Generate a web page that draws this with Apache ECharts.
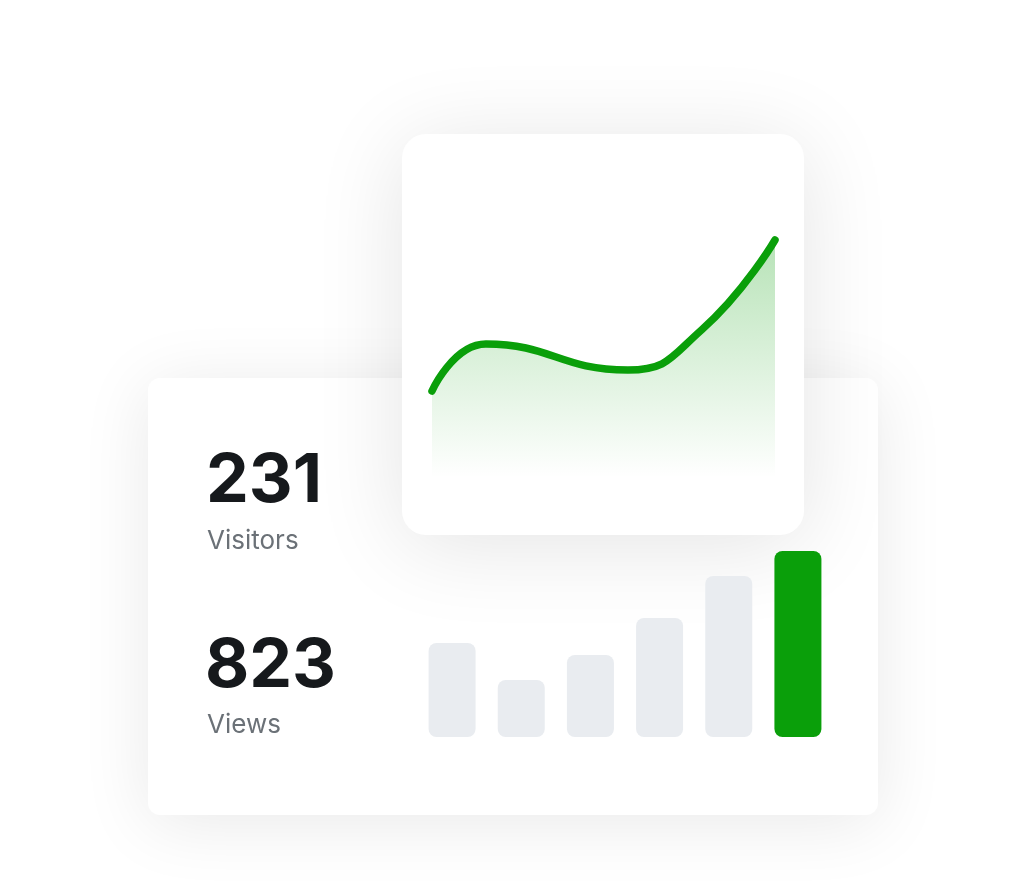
<!DOCTYPE html>
<html>
<head>
<meta charset="utf-8">
<script src="https://cdn.jsdelivr.net/npm/echarts@6/dist/echarts.min.js"></script>
<style>
html,body{margin:0;padding:0;background:#fff;}
#c{width:1024px;height:887px;}
</style>
</head>
<body>
<div id="c"></div>
<script>
// ---- data ----
const lineX = [0, 2.2, 8, 11, 14];
const lineValues = [87, 134, 108, 148, 238];
const barCategories = ['A','B','C','D','E','F'];
const barValues = [94, 57, 82, 119, 161, 186];
const statNumbers = ['231', '823'];
const statLabels = ['Visitors', 'Views'];

const GREEN = '#0a9f0a';
const GRAY_BAR = '#e9ecf0';

const chart = echarts.init(document.getElementById('c'), null, {renderer: 'canvas'});

const option = {
  backgroundColor: '#ffffff',
  animation: false,
  graphic: [
    { type: 'rect', z: 0, shape: {x: 148, y: 378, width: 730, height: 437, r: 12},
      style: {fill: '#ffffff', shadowBlur: 70, shadowColor: 'rgba(0,0,0,0.09)', shadowOffsetY: 8} },
    { type: 'rect', z: 1, shape: {x: 402, y: 134, width: 402, height: 401, r: 24},
      style: {fill: '#ffffff', shadowBlur: 90, shadowColor: 'rgba(0,0,0,0.11)', shadowOffsetY: 10} },
    { type: 'text', z: 3, x: 206, y: 482,
      style: {text: statNumbers[0], font: '700 68px Inter', fill: '#16191c', verticalAlign: 'middle', align: 'left'} },
    { type: 'text', z: 3, x: 207, y: 541,
      style: {text: statLabels[0], font: '400 26px Inter', fill: '#6b7177', verticalAlign: 'middle', align: 'left'} },
    { type: 'text', z: 3, x: 205, y: 667,
      style: {text: statNumbers[1], font: '700 68px Inter', fill: '#16191c', verticalAlign: 'middle', align: 'left'} },
    { type: 'text', z: 3, x: 207, y: 725,
      style: {text: statLabels[1], font: '400 26px Inter', fill: '#6b7177', verticalAlign: 'middle', align: 'left'} }
  ],
  grid: [
    {left: 432, right: 249, top: 238, bottom: 409},
    {left: 417.5, right: 191.5, top: 537, bottom: 150}
  ],
  xAxis: [
    {type: 'value', gridIndex: 0, min: 0, max: 14, show: false},
    {type: 'category', gridIndex: 1, data: barCategories, show: false}
  ],
  yAxis: [
    {type: 'value', gridIndex: 0, min: 0, max: 240, show: false},
    {type: 'value', gridIndex: 1, min: 0, max: 200, show: false}
  ],
  series: [
    {
      type: 'line', xAxisIndex: 0, yAxisIndex: 0, z: 5,
      data: lineX.map((x, i) => [x, lineValues[i]]), smooth: 0.5, symbol: 'none',
      lineStyle: {color: GREEN, width: 7.5, cap: 'round', join: 'round'},
      areaStyle: {
        color: new echarts.graphic.LinearGradient(0, 0, 0, 1, [
          {offset: 0, color: 'rgba(10,159,10,0.42)'},
          {offset: 1, color: 'rgba(10,159,10,0)'}
        ])
      }
    },
    {
      type: 'bar', xAxisIndex: 1, yAxisIndex: 1, z: 5,
      barWidth: 47,
      data: barValues.map((v, i) => ({
        value: v,
        itemStyle: {color: i === barValues.length - 1 ? GREEN : GRAY_BAR, borderRadius: 8}
      }))
    }
  ]
};
chart.setOption(option);
</script>
</body>
</html>
